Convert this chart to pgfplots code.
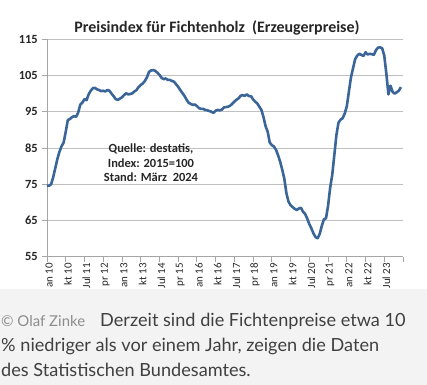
\documentclass[border=0pt]{standalone}
\usepackage{pgfplots}
\pgfplotsset{compat=1.18}
\usepackage{fontspec}
\setmainfont{Carlito}
\newfontfamily\capfont{Lato}
\definecolor{linecol}{HTML}{3A6598}
\definecolor{gridcol}{HTML}{C0C0C0}
\definecolor{axcol}{HTML}{A6A6A6}
\definecolor{capbg}{HTML}{F3F3F3}
\definecolor{captext}{HTML}{404040}
\definecolor{copytext}{HTML}{8C8C8C}
\pgfplotstableread{
m v
0 74.6
1 74.6
2 75.0
3 77.0
4 79.5
5 82.0
6 84.0
7 85.5
8 86.5
9 89.5
10 92.7
11 93.0
12 93.5
13 93.8
14 93.6
15 94.8
16 97.0
17 97.5
18 98.5
19 98.2
20 99.8
21 100.8
22 101.5
23 101.6
24 101.2
25 101.0
26 100.7
27 100.8
28 100.6
29 101.0
30 100.8
31 100.0
32 99.3
33 98.5
34 98.3
35 98.6
36 99.0
37 99.6
38 100.1
39 99.8
40 99.9
41 100.1
42 100.6
43 101.0
44 101.8
45 102.4
46 102.8
47 103.5
48 104.5
49 106.0
50 106.4
51 106.5
52 106.3
53 105.8
54 105.2
55 104.4
56 104.0
57 104.2
58 103.8
59 103.8
60 103.5
61 103.3
62 102.6
63 101.9
64 101.0
65 100.2
66 99.4
67 98.4
68 97.5
69 97.2
70 96.9
71 97.0
72 96.6
73 96.0
74 95.8
75 95.8
76 95.5
77 95.4
78 95.2
79 95.0
80 94.7
81 95.3
82 95.5
83 95.4
84 95.6
85 96.2
86 96.3
87 96.4
88 96.7
89 97.2
90 97.8
91 98.3
92 98.7
93 99.4
94 99.6
95 99.4
96 99.8
97 99.3
98 99.3
99 98.4
100 97.8
101 97.3
102 96.4
103 95.5
104 93.5
105 91.0
106 89.5
107 86.5
108 85.8
109 85.4
110 84.5
111 83.0
112 81.2
113 79.0
114 76.5
115 72.5
116 70.2
117 69.2
118 68.7
119 68.2
120 67.9
121 68.3
122 68.5
123 67.4
124 66.8
125 65.5
126 64.0
127 62.8
128 61.4
129 60.4
130 60.1
131 61.3
132 63.5
133 65.3
134 65.6
135 69.0
136 74.0
137 77.5
138 83.0
139 88.5
140 92.0
141 92.8
142 93.2
143 94.5
144 96.5
145 100.5
146 104.5
147 107.0
148 109.5
149 110.5
150 111.0
151 110.7
152 110.4
153 111.4
154 110.8
155 111.0
156 110.9
157 110.7
158 112.0
159 112.7
160 112.8
161 112.5
162 110.5
163 105.5
164 99.8
165 102.2
166 100.5
167 100.0
168 100.4
169 100.8
170 101.8
}\fichte
\begin{document}
\begin{tikzpicture}[x=1bp,y=1bp]
\fill[white] (0,0) rectangle (427,385);
\begin{axis}[
  at={(47bp,128.3bp)}, anchor=south west,
  scale only axis, width=356bp, height=217.4bp,
  xmin=0, xmax=171, ymin=55, ymax=115,
  axis x line*=bottom, axis y line*=left,
  axis line style={draw=axcol, line width=0.8pt},
  ytick={55,65,...,115},
  /pgf/number format/assume math mode=true,
  ymajorgrids, grid style={draw=gridcol, line width=0.8pt},
  xtick={0,9,...,162,171},
  xticklabels={an 10,kt 10,Jul 11,pr 12,an 13,kt 13,Jul 14,pr 15,an 16,kt 16,Jul 17,pr 18,an 19,kt 19,Jul 20,pr 21,an 22,kt 22,Jul 23,{}},
  tick align=outside, major tick length=5bp,
  tick style={draw=axcol, line width=0.8pt},
  xticklabel style={rotate=90, anchor=east, font=\fontsize{11}{12}\selectfont, text=black!85, inner sep=1bp, yshift=-2bp},
  yticklabel style={font=\bfseries\fontsize{12.5}{14}\selectfont, text=black!85, inner sep=1bp, xshift=-3bp},
  clip=false,
]
\addplot[linecol, line width=2.6pt, line join=round] table[x=m, y=v] {\fichte};
\end{axis}
\node[font=\bfseries\fontsize{16}{18}\selectfont, text=black!85] at (217,357) {Preisindex für Fichtenholz\ \ (Erzeugerpreise)};
\node[font=\bfseries\fontsize{12.5}{14.5}\selectfont, text=black!85, align=center] at (151,222) {Quelle: destatis,\\Index: 2015=100\\Stand: März\ \ 2024};
\fill[capbg] (0,0) rectangle (427,96);
\node[anchor=base west, inner sep=0, font=\capfont\fontsize{15}{17}\selectfont, text=copytext] at (1,59) {© Olaf Zinke};
\node[anchor=base west, inner sep=0, font=\capfont\fontsize{18.2}{21}\selectfont, text=captext] at (100,59) {Derzeit sind die Fichtenpreise etwa 10};
\node[anchor=base west, inner sep=0, font=\capfont\fontsize{18.2}{21}\selectfont, text=captext] at (1,34) {\% niedriger als vor einem Jahr, zeigen die Daten};
\node[anchor=base west, inner sep=0, font=\capfont\fontsize{18.2}{21}\selectfont, text=captext] at (1,9) {des Statistischen Bundesamtes.};
\end{tikzpicture}
\end{document}
